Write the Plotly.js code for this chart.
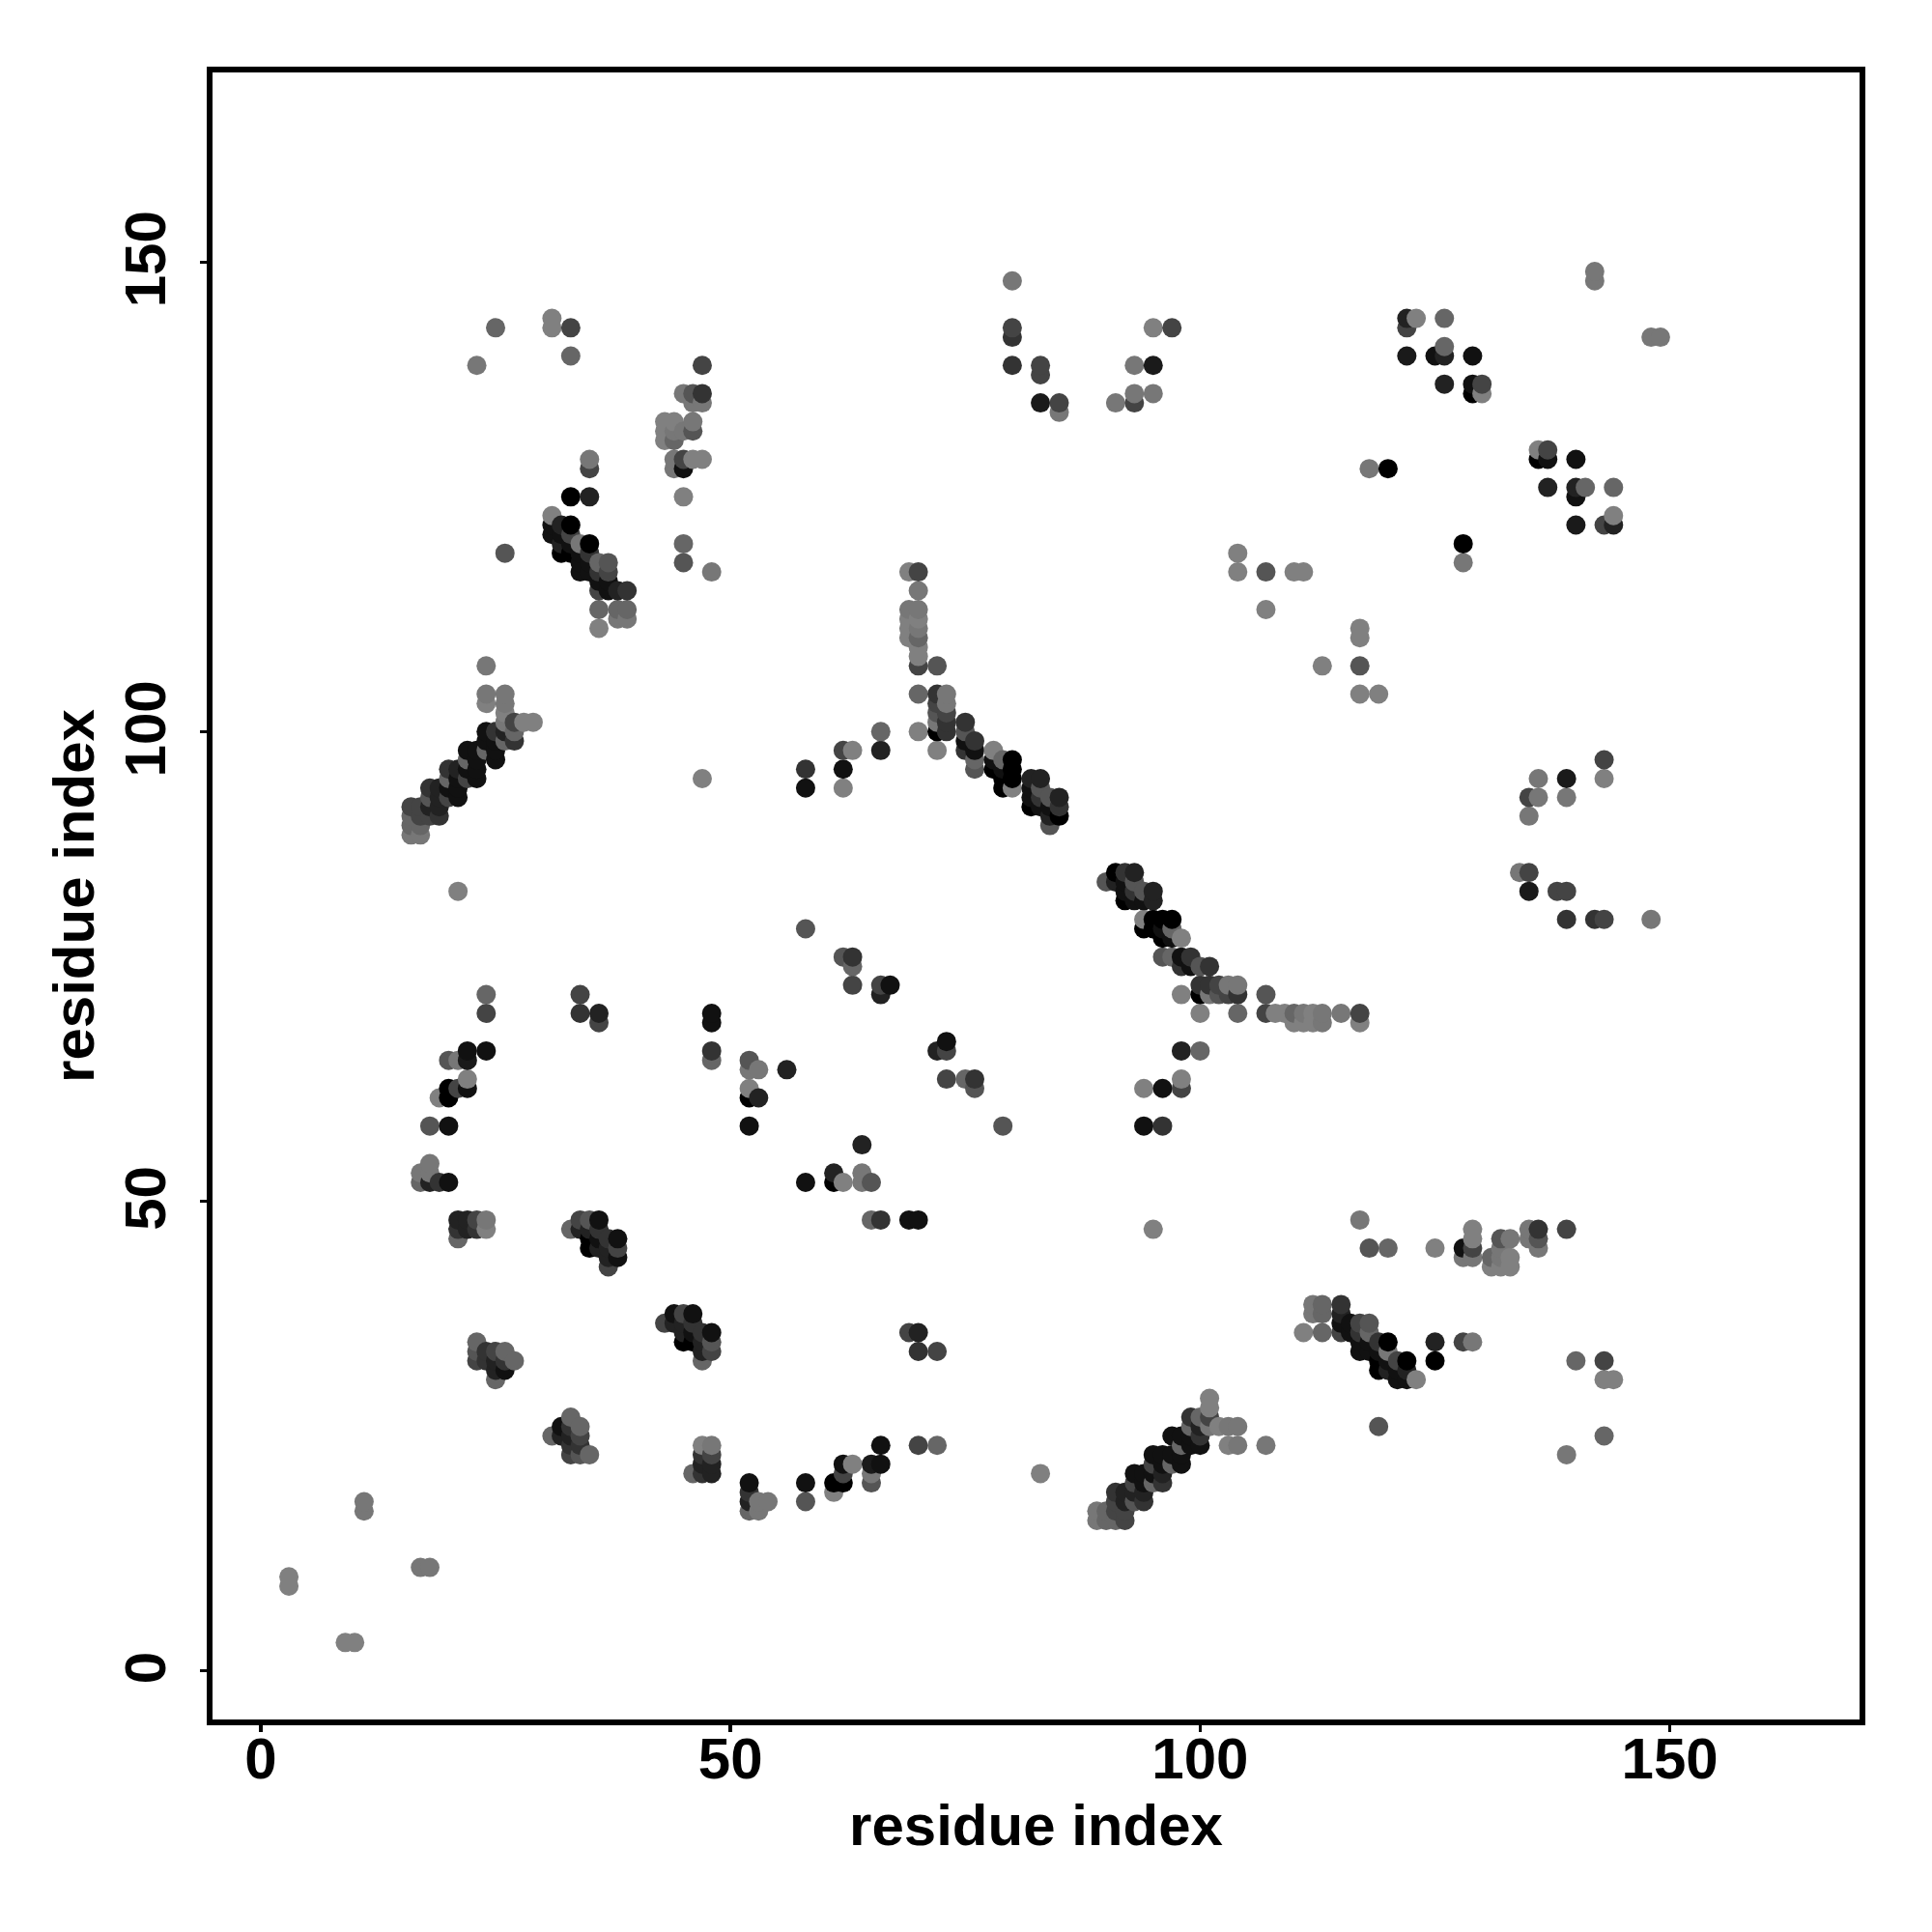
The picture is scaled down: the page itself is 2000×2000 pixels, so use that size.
<!DOCTYPE html>
<html><head><meta charset="utf-8">
<script src="https://cdn.plot.ly/plotly-3.0.1.min.js"></script>
<style>html,body{margin:0;padding:0;background:#fff}</style></head>
<body><div id="chart" style="width:2000px;height:2000px"></div>
<script>
// Each contact: [residue i, residue j, grey level]; the map is symmetric.
const shortRange=[[3,9,128],[3,10,128],[11,17,119],[11,18,119]];
const block20s60s=[[24,72,102],[24,70,68],[24,66,17],[22,66,17],[22,65,26],[20,65,85],[21,65,119],[22,63,128],[22,62,17],[21,62,68],[20,62,0],[20,61,0],[19,61,128],[20,58,17],[18,58,85],[18,54,119],[17,53,119],[18,53,119],[17,52,102],[18,52,34],[19,52,51],[20,52,17],[21,48,34],[22,48,34],[23,48,68],[24,48,119],[21,47,51],[22,47,34],[23,47,51],[24,47,128],[21,46,102]];
const sheet23to35=[[23,35,102],[23,34,85],[23,33,68],[24,34,51],[24,33,51],[25,34,68],[25,33,34],[25,32,34],[25,31,102],[26,34,102],[26,33,51],[26,32,17],[27,33,102]];
const sheet33to48=[[33,47,102],[34,48,68],[34,47,34],[35,48,85],[35,47,34],[35,46,0],[35,45,0],[36,48,17],[36,47,51],[36,46,17],[36,45,34],[37,46,51],[37,45,34],[37,44,34],[37,43,68],[38,46,17],[38,45,68],[38,44,17]];
const loop34to72=[[34,72,68],[34,70,51],[36,70,34],[36,69,68],[48,70,17],[48,69,17],[48,66,51],[48,65,102],[52,65,85],[52,64,119],[53,64,119],[52,62,128],[52,61,0],[53,61,34],[52,58,17],[56,64,34],[58,79,85],[62,76,85],[63,76,51],[63,75,102],[63,73,68],[66,73,68],[66,72,34],[67,73,17]];
const upperLeft=[[25,143,102],[23,139,119],[31,144,128],[31,143,128],[33,143,68],[33,140,102],[47,139,68],[45,136,119],[46,136,85],[47,136,51],[46,135,119],[47,135,119],[43,133,128],[44,133,128],[43,132,128],[44,132,119],[43,131,128],[44,131,102],[46,133,119],[46,132,85],[45,132,119],[44,129,119],[45,129,68],[46,129,128],[47,129,128],[44,128,119],[45,128,17],[45,125,128],[45,120,102],[45,118,85],[48,117,119],[47,95,128],[21,83,128]];
const helixA=[[35,129,119],[35,128,68],[33,125,0],[35,125,34],[31,123,128],[32,122,34],[33,122,0],[31,122,17],[31,121,17],[32,121,17],[33,121,68],[32,120,34],[32,119,0],[33,120,17],[33,119,0],[34,120,119],[35,120,0],[34,119,17],[35,119,51],[34,118,17],[34,117,17],[35,118,17],[35,117,17],[36,118,102],[37,118,85],[36,117,51],[37,117,68],[36,116,17],[37,116,17],[36,115,68],[37,115,17],[38,115,34],[39,115,51],[36,113,102],[38,113,102],[39,113,102],[36,111,128],[38,112,119],[39,112,119],[26,119,85]];
const helixB=[[24,107,119],[24,104,119],[24,103,128],[26,104,119],[26,103,119],[26,102,128],[26,101,119],[27,101,68],[28,101,128],[29,101,128],[27,100,102],[27,99,51],[26,100,34],[26,99,102],[25,100,51],[24,100,17],[24,99,17],[25,99,17],[24,98,102],[25,98,17],[25,97,17],[23,98,17],[22,98,17],[23,97,17],[22,97,102],[23,96,17],[23,95,17],[22,96,17],[22,95,68],[21,96,34],[20,96,51],[21,95,17],[20,95,102],[21,94,17],[21,93,17],[20,94,17],[20,93,68],[19,94,34],[18,94,51],[19,93,34],[18,93,85],[19,92,34],[19,91,51],[18,92,34],[18,91,68],[17,92,68],[16,92,68],[17,91,68],[16,91,102],[17,90,102],[16,90,102],[17,89,119],[16,89,119]];
const loop58to100=[[58,96,51],[58,94,17],[62,98,68],[62,96,17],[62,94,128],[63,98,128],[66,100,102],[66,98,34]];
const helixC=[[69,117,128],[70,117,68],[70,115,119],[69,113,119],[70,113,119],[69,112,128],[70,112,128],[69,111,128],[70,111,119],[69,110,128],[70,110,102],[70,109,128],[70,108,128],[70,107,68],[72,107,85],[70,104,102],[72,104,51],[73,104,119],[72,103,68],[73,103,119],[72,102,85],[73,102,68],[72,101,119],[73,101,51],[72,100,0],[73,100,51],[70,100,128],[72,98,128],[75,101,51],[75,100,85],[75,99,17],[75,98,51],[76,99,51],[76,98,17],[76,97,102],[76,96,85],[78,98,128],[78,97,17],[78,96,0],[79,97,102],[79,96,17],[79,95,0],[79,94,0],[80,97,0],[80,96,0],[80,95,0],[80,94,128],[82,95,34],[83,95,34],[82,94,17],[82,93,17],[82,92,0],[83,94,85],[83,93,51],[83,92,17],[84,93,85],[84,92,17],[84,91,34],[84,90,85],[85,93,34],[85,92,51],[85,91,0]];
const farUpperRight=[[80,148,119],[80,143,68],[80,142,51],[80,139,51],[83,139,68],[83,138,68],[83,135,26],[85,135,68],[85,134,119],[91,135,119],[93,136,119],[93,135,68],[95,139,26],[93,139,119],[95,143,128],[97,143,68],[95,136,119],[122,144,34],[123,144,128],[126,144,102],[122,143,68],[126,141,102],[122,140,26],[125,140,17],[126,140,34],[129,140,17],[126,137,34],[129,137,17],[130,137,68],[129,136,0],[130,136,128],[142,149,119],[142,148,119],[118,128,119],[120,128,0],[104,119,128],[104,117,128],[107,117,85],[110,117,128],[111,117,128],[107,113,128]];
const tail69to117=[[72,98,128],[70,100,128],[72,100,0],[73,100,51],[72,101,119],[73,101,51],[72,102,85],[73,102,68],[72,103,68],[73,103,119],[72,104,34],[73,104,85],[72,107,68],[98,72,128],[100,72,0],[101,72,119],[102,72,85],[103,72,68],[104,72,34],[100,73,51],[101,73,51],[102,73,68],[103,73,119],[104,73,85],[107,72,68],[107,70,68],[108,70,119],[109,70,128],[110,70,102],[110,69,119],[111,70,119],[111,69,119],[112,70,128],[112,69,128],[113,70,119],[113,69,102],[115,70,119],[117,70,51],[117,69,128]];

const tickValues=[0,50,100,150];
const xTickLabels=['0','50','100','150'];
const yTickLabels=['0\u2009','50\u2009','100\u2009','150\u2009'];
const axisTitle='residue index';
const xRange=[-5.44,170.5];
const yRange=[-5.5,170.5];

const seen=new Map();
function addPoint(x,y,g){const k=x+'_'+y;if(!seen.has(k))seen.set(k,[x,y,g]);}
[shortRange,block20s60s,sheet23to35,sheet33to48,loop34to72,upperLeft,helixA,helixB,loop58to100,helixC,farUpperRight,tail69to117].forEach(list=>{
  list.forEach(c=>{addPoint(c[0],c[1],c[2]);addPoint(c[1],c[0],c[2]);});
});
const pts=[...seen.values()].sort((a,b)=>a[0]-b[0]||a[1]-b[1]);

const trace={type:'scatter',mode:'markers',x:pts.map(p=>p[0]),y:pts.map(p=>p[1]),
  marker:{size:20,line:{width:0},color:pts.map(p=>`rgb(${p[2]},${p[2]},${p[2]})`)},hoverinfo:'skip'};
const font='"Liberation Sans",Arial,sans-serif';
const layout={width:2000,height:2000,paper_bgcolor:'#fff',plot_bgcolor:'#fff',showlegend:false,
  margin:{l:217,r:72,t:72,b:217,pad:0},
  xaxis:{range:xRange,tickmode:'array',tickvals:tickValues,ticktext:xTickLabels,showgrid:false,zeroline:false,showline:false,
    ticks:'outside',ticklen:9,tickwidth:3.5,tickcolor:'#000',ticklabelstandoff:-24,tickfont:{family:font,size:60,weight:'bold',color:'#000'},
    title:{text:axisTitle,font:{family:font,size:60,weight:'bold',color:'#000'},standoff:14},automargin:false},
  yaxis:{range:yRange,tickmode:'array',tickvals:tickValues,ticktext:yTickLabels,showgrid:false,zeroline:false,showline:false,
    ticks:'outside',ticklen:9,tickwidth:3.5,tickcolor:'#000',tickangle:-90,ticklabelstandoff:12,tickfont:{family:font,size:60,weight:'bold',color:'#000'},
    title:{text:axisTitle,font:{family:font,size:60,weight:'bold',color:'#000'},standoff:0},automargin:false},
  shapes:[{type:'rect',xref:'paper',yref:'paper',x0:0,x1:1,y0:0,y1:1,line:{color:'#000',width:6},fillcolor:'rgba(0,0,0,0)',layer:'above'}]
};
Plotly.newPlot('chart',[trace],layout,{displayModeBar:false,staticPlot:true});
</script></body></html>
